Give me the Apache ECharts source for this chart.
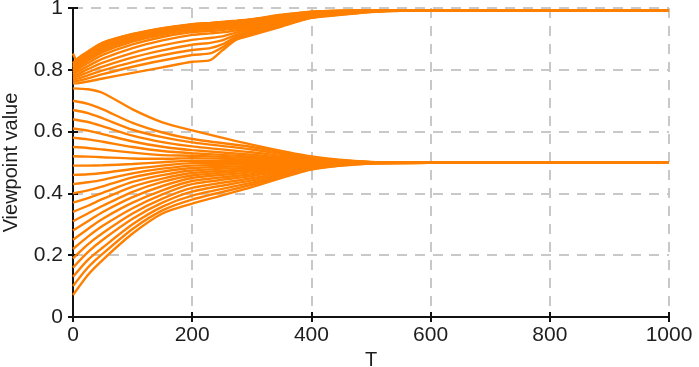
<!DOCTYPE html>
<html>
<head>
<meta charset="utf-8">
<script src="https://cdn.jsdelivr.net/npm/echarts@6/dist/echarts.min.js"></script>
<style>html,body{margin:0;padding:0;background:#fff}#c{width:699px;height:367px}</style>
</head>
<body>
<div id="c"></div>
<script>
// Time steps sampled for each group
const T_lower = [0, 25, 50, 100, 150, 200, 300, 400, 500, 600, 1000];
const T_upper = [0, 10, 25, 50, 100, 150, 200, 230, 250, 275, 300, 350, 400, 450, 500, 550, 1000];

// Lower group: converging to 0.5
const l0  = [0.071, 0.136, 0.185, 0.270, 0.335, 0.367, 0.420, 0.477, 0.497, 0.499, 0.499];
const l1  = [0.100, 0.160, 0.205, 0.285, 0.345, 0.380, 0.428, 0.479, 0.497, 0.499, 0.499];
const l2  = [0.130, 0.185, 0.225, 0.300, 0.357, 0.393, 0.435, 0.481, 0.498, 0.499, 0.499];
const l3  = [0.160, 0.210, 0.250, 0.318, 0.370, 0.406, 0.442, 0.483, 0.498, 0.499, 0.499];
const l4  = [0.190, 0.235, 0.272, 0.335, 0.383, 0.418, 0.449, 0.485, 0.498, 0.499, 0.499];
const l5  = [0.220, 0.260, 0.295, 0.352, 0.397, 0.430, 0.456, 0.487, 0.498, 0.499, 0.499];
const l6  = [0.250, 0.285, 0.318, 0.370, 0.410, 0.440, 0.462, 0.489, 0.499, 0.499, 0.499];
const l7  = [0.280, 0.310, 0.340, 0.388, 0.424, 0.450, 0.468, 0.491, 0.499, 0.499, 0.499];
const l8  = [0.310, 0.335, 0.360, 0.405, 0.437, 0.458, 0.474, 0.493, 0.499, 0.499, 0.499];
const l9  = [0.340, 0.360, 0.382, 0.422, 0.448, 0.466, 0.479, 0.494, 0.499, 0.499, 0.499];
const l10 = [0.370, 0.385, 0.402, 0.437, 0.459, 0.474, 0.484, 0.496, 0.499, 0.499, 0.499];
const l11 = [0.400, 0.410, 0.423, 0.452, 0.470, 0.482, 0.489, 0.497, 0.499, 0.499, 0.499];
const l12 = [0.430, 0.436, 0.444, 0.465, 0.480, 0.490, 0.494, 0.498, 0.499, 0.499, 0.499];
const l13 = [0.460, 0.462, 0.466, 0.479, 0.490, 0.498, 0.499, 0.499, 0.499, 0.499, 0.499];
const l14 = [0.490, 0.490, 0.491, 0.495, 0.501, 0.506, 0.504, 0.501, 0.499, 0.499, 0.499];
const l15 = [0.520, 0.519, 0.517, 0.513, 0.512, 0.514, 0.509, 0.502, 0.500, 0.499, 0.499];
const l16 = [0.550, 0.547, 0.542, 0.532, 0.524, 0.522, 0.514, 0.503, 0.500, 0.499, 0.499];
const l17 = [0.580, 0.575, 0.567, 0.550, 0.537, 0.530, 0.519, 0.505, 0.500, 0.499, 0.499];
const l18 = [0.610, 0.603, 0.592, 0.568, 0.551, 0.540, 0.525, 0.507, 0.500, 0.499, 0.499];
const l19 = [0.640, 0.631, 0.617, 0.587, 0.566, 0.552, 0.533, 0.510, 0.501, 0.499, 0.499];
const l20 = [0.670, 0.660, 0.643, 0.606, 0.582, 0.565, 0.542, 0.513, 0.501, 0.499, 0.499];
const l21 = [0.700, 0.690, 0.672, 0.628, 0.597, 0.576, 0.550, 0.516, 0.501, 0.499, 0.499];
const l22 = [0.740, 0.737, 0.725, 0.672, 0.630, 0.604, 0.558, 0.520, 0.502, 0.499, 0.499];

// Upper group: converging to ~1
const u0  = [0.756, 0.757, 0.762, 0.772, 0.790, 0.808, 0.826, 0.831, 0.862, 0.898, 0.912, 0.940, 0.968, 0.978, 0.987, 0.991, 0.992];
const u1  = [0.762, 0.765, 0.772, 0.786, 0.810, 0.830, 0.848, 0.853, 0.872, 0.903, 0.917, 0.943, 0.969, 0.979, 0.988, 0.991, 0.992];
const u2  = [0.768, 0.772, 0.782, 0.798, 0.825, 0.847, 0.864, 0.870, 0.882, 0.908, 0.921, 0.946, 0.970, 0.980, 0.988, 0.991, 0.992];
const u3  = [0.774, 0.780, 0.792, 0.810, 0.840, 0.863, 0.881, 0.887, 0.895, 0.914, 0.926, 0.949, 0.972, 0.981, 0.989, 0.992, 0.992];
const u4  = [0.780, 0.788, 0.802, 0.823, 0.855, 0.879, 0.897, 0.903, 0.908, 0.921, 0.931, 0.952, 0.973, 0.982, 0.989, 0.992, 0.992];
const u5  = [0.786, 0.796, 0.812, 0.836, 0.870, 0.895, 0.913, 0.918, 0.921, 0.928, 0.936, 0.955, 0.975, 0.983, 0.990, 0.992, 0.992];
const u6  = [0.792, 0.804, 0.822, 0.848, 0.882, 0.906, 0.922, 0.926, 0.929, 0.934, 0.941, 0.958, 0.977, 0.985, 0.990, 0.992, 0.992];
const u7  = [0.798, 0.811, 0.830, 0.857, 0.891, 0.913, 0.928, 0.932, 0.935, 0.939, 0.945, 0.961, 0.979, 0.986, 0.991, 0.992, 0.992];
const u8  = [0.803, 0.817, 0.837, 0.864, 0.897, 0.919, 0.933, 0.937, 0.940, 0.944, 0.949, 0.964, 0.980, 0.987, 0.991, 0.992, 0.992];
const u9  = [0.808, 0.823, 0.843, 0.870, 0.902, 0.923, 0.937, 0.941, 0.944, 0.948, 0.953, 0.967, 0.982, 0.988, 0.991, 0.992, 0.992];
const u10 = [0.812, 0.828, 0.849, 0.876, 0.906, 0.927, 0.940, 0.944, 0.947, 0.951, 0.956, 0.970, 0.984, 0.989, 0.992, 0.992, 0.992];
const u11 = [0.816, 0.832, 0.853, 0.881, 0.910, 0.930, 0.943, 0.947, 0.950, 0.954, 0.959, 0.973, 0.985, 0.990, 0.992, 0.992, 0.992];
const u12 = [0.820, 0.836, 0.856, 0.884, 0.913, 0.933, 0.946, 0.950, 0.953, 0.957, 0.962, 0.976, 0.987, 0.991, 0.992, 0.992, 0.992];
const u13 = [0.822, 0.840, 0.859, 0.888, 0.916, 0.935, 0.948, 0.952, 0.955, 0.959, 0.964, 0.978, 0.988, 0.991, 0.992, 0.992, 0.992];
const u14 = [0.853, 0.820, 0.855, 0.887, 0.915, 0.934, 0.947, 0.951, 0.954, 0.958, 0.963, 0.977, 0.988, 0.991, 0.992, 0.992, 0.992];

const xTicks = [0, 200, 400, 600, 800, 1000];
const yTicks = [0, 0.2, 0.4, 0.6, 0.8, 1];

const lowerLines = [l0,l1,l2,l3,l4,l5,l6,l7,l8,l9,l10,l11,l12,l13,l14,l15,l16,l17,l18,l19,l20,l21,l22];
const upperLines = [u0,u1,u2,u3,u4,u5,u6,u7,u8,u9,u10,u11,u12,u13,u14];

const ORANGE = '#FF8000';
const FONT = 'Liberation Sans, Arial, sans-serif';
const TXT = '#1e1e1e';
function mk(ts, vals) {
  return {
    type: 'line', xAxisIndex: 0, yAxisIndex: 0,
    data: ts.map((t, i) => [t, vals[i]]),
    showSymbol: false, symbol: 'none', smooth: 0.25, silent: true,
    lineStyle: { color: ORANGE, width: 2.4 }
  };
}
const series = [];
lowerLines.forEach(v => series.push(mk(T_lower, v)));
upperLines.forEach(v => series.push(mk(T_upper, v)));

const gridLine = { show: true, lineStyle: { color: '#c8c8c8', width: 2, type: [10, 8] } };
const axisLine = { show: true, lineStyle: { color: '#111', width: 2 } };
const tick = { show: true, inside: false, length: 5, lineStyle: { color: '#111', width: 2 } };

const chart = echarts.init(document.getElementById('c'), null, { renderer: 'canvas' });
chart.setOption({
  animation: false,
  backgroundColor: '#fff',
  grid: { left: 73, right: 30, top: 8, bottom: 50, containLabel: false, outerBoundsMode: 'none' },
  xAxis: [
    { type: 'value', min: xTicks[0], max: xTicks[xTicks.length-1], interval: 200,
      name: 'T', nameLocation: 'middle', nameGap: 24,
      nameTextStyle: { fontFamily: FONT, fontSize: 20, color: TXT },
      axisLine, axisTick: tick, splitLine: gridLine,
      axisLabel: { fontFamily: FONT, fontSize: 21, color: TXT, margin: 8, formatter: v => String(v) } },
    { type: 'value', position: 'top', min: 0, max: 1000, interval: 200,
      axisLine, axisTick: tick, splitLine: { show: false }, axisLabel: { show: false } }
  ],
  yAxis: [
    { type: 'value', min: yTicks[0], max: yTicks[yTicks.length-1], interval: 0.2,
      name: 'Viewpoint value', nameLocation: 'middle', nameGap: 52,
      nameTextStyle: { fontFamily: FONT, fontSize: 20, color: TXT },
      axisLine, axisTick: tick, splitLine: gridLine,
      axisLabel: { fontFamily: FONT, fontSize: 21, color: TXT, margin: 10, formatter: v => String(v) } },
    { type: 'value', position: 'right', min: 0, max: 1, interval: 0.2,
      axisLine, axisTick: tick, splitLine: { show: false }, axisLabel: { show: false } }
  ],
  series
});
</script>
</body>
</html>
